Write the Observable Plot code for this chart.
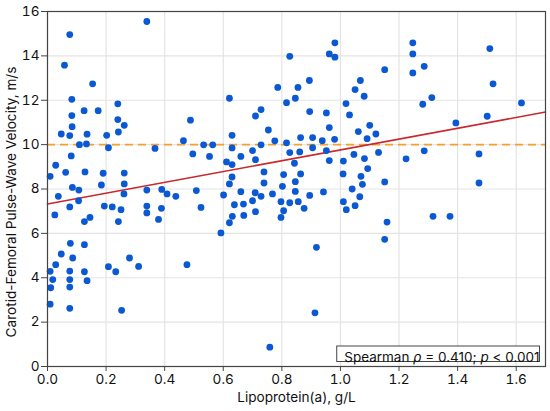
<!DOCTYPE html>
<html><head><meta charset="utf-8">
<script src="https://cdn.jsdelivr.net/npm/d3@7"></script>
<script src="https://cdn.jsdelivr.net/npm/@observablehq/plot@0.6"></script>
<style>
body{margin:0;background:#fff;}
svg{font-family:Inter,"Liberation Sans",sans-serif;}
</style>
</head><body><div id="chart"></div>
<script>
// Lipoprotein(a), g/L
const lpa = [
0.009,0.028,0.047,0.058,0.062,0.076,0.076,0.081,0.083,0.083,0.084,0.085,0.107,0.109,0.125,0.128,0.133,0.135,0.154,0.173,
0.184,0.190,0.202,0.208,0.240,0.240,0.242,0.262,0.262,0.262,0.339,0.339,0.367,0.390,0.464,0.488,0.037,0.261,0.408,0.438,
0.025,0.076,0.106,0.194,0.221,0.251,0.339,0.339,0.389,0.379,0.126,0.145,0.242,0.078,0.126,0.047,0.028,0.086,0.009,0.018,
0.011,0.009,0.076,0.076,0.076,0.076,0.126,0.135,0.208,0.233,0.280,0.311,0.253,0.476,0.496,
0.533,0.564,0.553,0.621,0.630,0.630,0.611,0.630,0.630,0.621,0.660,0.710,0.729,0.754,0.700,0.710,0.729,0.739,0.739,0.776,
0.786,0.816,0.827,0.846,0.855,0.816,0.827,0.843,0.806,0.802,0.846,0.864,0.861,0.864,0.894,0.895,0.905,0.905,0.938,0.952,
0.962,0.952,0.962,0.980,0.962,0.981,0.981,0.508,0.524,0.601,0.660,0.638,0.669,0.631,0.621,0.592,0.670,0.700,0.709,0.710,
0.729,0.768,0.797,0.806,0.797,0.827,0.846,0.856,0.876,0.895,0.942,0.918,0.913,0.759,
1.019,1.031,1.050,1.068,1.081,1.061,1.100,1.091,1.121,1.151,1.010,1.046,1.082,1.130,1.009,1.070,1.093,1.075,1.151,1.040,
1.247,1.247,1.247,1.286,1.281,1.312,1.224,1.286,1.394,1.510,1.521,1.501,1.618,1.473,1.473,1.010,1.020,1.050,1.066,1.159,
1.151,1.316,1.374
];
// Carotid-femoral pulse-wave velocity, m/s
const pwv = [
8.57,9.07,10.48,13.58,8.75,14.96,10.41,9.49,12.04,11.31,10.81,8.07,7.95,10.00,11.53,8.77,10.03,10.47,12.74,11.53,
8.18,8.71,10.42,9.86,11.84,11.13,10.57,10.87,8.72,8.23,15.55,7.95,9.83,7.98,10.18,11.10,7.67,7.78,7.78,7.67,
6.83,7.19,7.47,7.23,7.19,7.07,7.23,6.92,7.13,6.63,6.53,6.72,6.53,5.55,5.49,5.07,4.59,4.89,4.29,3.92,
3.55,2.81,4.30,3.92,3.58,2.62,4.27,3.87,4.50,4.27,4.89,4.51,2.53,4.59,9.58,
9.99,9.99,9.47,12.09,10.42,9.85,9.22,9.10,8.54,8.23,9.47,11.29,11.58,10.66,9.73,9.32,9.99,8.77,8.27,10.17,
12.58,11.89,13.98,12.09,12.58,10.08,9.64,9.16,8.65,8.12,8.33,8.68,9.67,10.32,12.89,11.49,10.32,9.86,10.18,11.43,
10.77,9.73,9.28,10.24,14.09,13.94,14.59,7.93,7.17,7.73,7.88,7.29,7.32,6.77,6.48,6.02,6.81,7.47,7.83,6.98,
7.67,7.78,7.43,7.02,6.72,7.38,7.89,7.43,7.13,7.71,7.87,5.37,2.42,0.87,
11.85,11.34,12.48,12.89,12.18,10.59,10.87,10.27,10.48,13.38,9.26,9.56,9.37,9.65,8.68,8.57,8.92,8.21,8.32,8.00,
14.59,14.09,13.23,13.53,11.82,12.12,9.36,9.72,10.98,14.33,12.74,11.28,11.88,9.58,8.27,7.43,7.07,7.25,7.65,6.51,
5.73,6.77,6.77
];
const xTicks = [0, 0.2, 0.4, 0.6, 0.8, 1.0, 1.2, 1.4, 1.6];
const yTicks = [0, 2, 4, 6, 8, 10, 12, 14, 16];
const xDomain = [0, 1.7];
const yDomain = [0, 16];
const refLevel = [10];
const fitX = [0, 1.7];
const fitY = [7.32, 11.47];
const annotation = "Spearman ρ = 0.410; p < 0.001";

const points = lpa.map((x, i) => ({x, y: pwv[i]}));
const fit = fitX.map((x, i) => ({x, y: fitY[i]}));

const chart = Plot.plot({
  width: 550,
  height: 411,
  marginLeft: 47,
  marginRight: 5,
  marginTop: 11,
  marginBottom: 45,
  style: {fontFamily: "Inter, 'Liberation Sans', sans-serif", fontSize: "13.6px", color: "#111", background: "#fff"},
  x: {domain: xDomain},
  y: {domain: yDomain},
  marks: [
    Plot.gridX(xTicks, {stroke: "#e4e4e4", strokeOpacity: 1, strokeWidth: 1.2}),
    Plot.gridY(yTicks, {stroke: "#e4e4e4", strokeOpacity: 1, strokeWidth: 1.2}),
    Plot.axisX({ticks: xTicks, tickFormat: d3.format(".1f"), tickSize: 5, tickPadding: 3, fontSize: 13.6,
      label: "Lipoprotein(a), g/L", labelAnchor: "center", labelArrow: "none", labelOffset: 35, stroke: "#444"}),
    Plot.axisY({ticks: yTicks, tickSize: 6, tickPadding: 2, fontSize: 13.6,
      label: "Carotid-Femoral Pulse-Wave Velocity, m/s", labelAnchor: "center", labelArrow: "none", labelOffset: 41, stroke: "#444"}),
    Plot.ruleY(refLevel, {stroke: "#f6a02d", strokeWidth: 1.6, strokeDasharray: "8,5"}),
    Plot.line(fit, {x: "x", y: "y", stroke: "#c9282d", strokeWidth: 1.6}),
    Plot.dot(points, {x: "x", y: "y", r: 3.4, fill: "#0a58d2", stroke: "none"}),
    Plot.frame({stroke: "#444", strokeWidth: 1.2}),
    Plot.text([annotation], {frameAnchor: "bottom-right", dx: -6, dy: -5, fontSize: 13.5, fill: "#111", className: "anno"})
  ]
});
document.getElementById("chart").appendChild(chart);

const svg = d3.select(chart);
const sr = chart.getBoundingClientRect();

// center the y-axis title where the reference puts it
const yl = svg.select('g[aria-label="y-axis label"]');
if (!yl.empty()) {
  const r = yl.node().getBoundingClientRect();
  const cy = r.top - sr.top + r.height / 2;
  const prev = yl.attr("transform") || "";
  yl.attr("transform", `translate(0,${202 - cy}) ${prev}`);
}

// italicize the statistic symbols and add a boxed background
const t = svg.select("g.anno text");
t.text(null);
t.append("tspan").text("Spearman ");
t.append("tspan").attr("font-style", "italic").text("ρ");
t.append("tspan").text(" = 0.410; ");
t.append("tspan").attr("font-style", "italic").text("p");
t.append("tspan").text(" < 0.001");
const tr = t.node().getBoundingClientRect();
const bx = tr.left - sr.left, by = tr.top - sr.top + 2;
const sx = chart.scale("x"), sy = chart.scale("y");
const right = sx.apply(xDomain[1]), bottom = sy.apply(yDomain[0]);
svg.select("g.anno").insert("rect", "text")
  .attr("x", bx - 2).attr("y", by)
  .attr("width", right - bx + 2).attr("height", bottom - by)
  .attr("fill", "#fff").attr("stroke", "#444").attr("stroke-width", 1);
</script>
</body></html>
